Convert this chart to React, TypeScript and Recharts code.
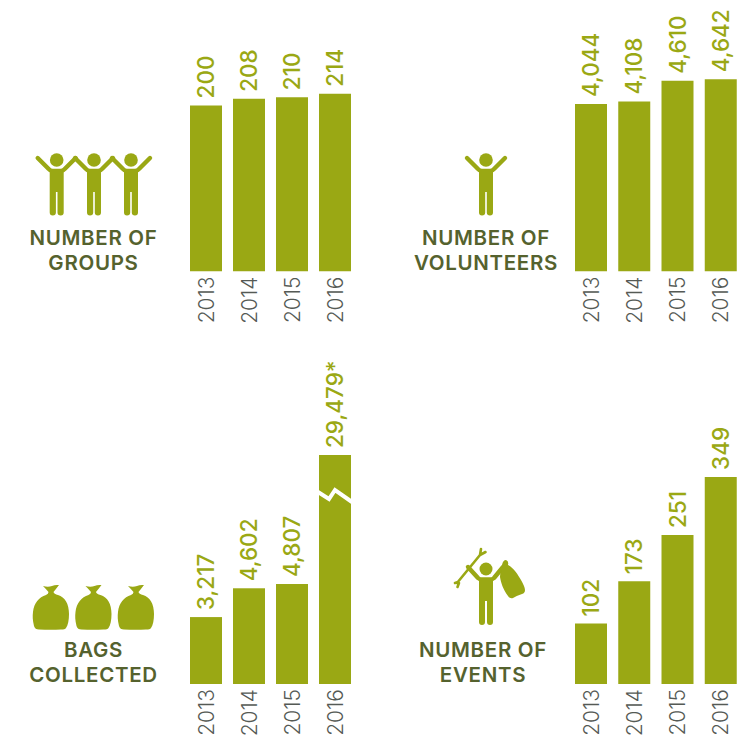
import React from "react";
import { BarChart, Bar, XAxis, YAxis, LabelList } from "recharts";

const years = ["2013", "2014", "2015", "2016"];
const groups = [200, 208, 210, 214];
const volunteers = [4044, 4108, 4610, 4642];
const bags = [3217, 4602, 4807, 29479];
// The 2016 bags bar is drawn on a broken axis: its drawn height stands for this truncated value.
const bagsDrawn = [3217, 4602, 4807, 11010];
const events = [102, 173, 251, 349];
const bagsSuffix = ["", "", "", "*"];

const GREEN = "#9aa814";
const DARK = "#55622e";
const GREY = "#555a55";
const FONT = "Inter, 'Noto Sans', sans-serif";

const fmt = (v: number) => v.toLocaleString("en-US");

function YearTick(props: any) {
  const { x, y, payload } = props;
  return (
    <text
      transform={`translate(${x + 8},${y - 3}) rotate(-90)`}
      textAnchor="end"
      fontFamily={FONT}
      fontWeight={300}
      fontSize={21}
      fill={GREY}
    >
      {payload.value}
    </text>
  );
}

function ValueLabel(props: any) {
  const { x, y, width, value, index, labels } = props;
  return (
    <text
      transform={`translate(${x + width / 2 + 8},${y - 7}) rotate(-90)`}
      textAnchor="start"
      fontFamily={FONT}
      fontWeight={500}
      fontSize={22.5}
      fill={GREEN}
    >
      {labels ? labels[index] : fmt(value)}
    </text>
  );
}

function BrokenBar(props: any) {
  const { x, y, width, height, index } = props;
  return (
    <g>
      <rect x={x} y={y} width={width} height={height} fill={GREEN} />
      {index === 3 && (
        <polyline
          points={`${x - 1},${y + 37} ${x + 10},${y + 44} ${x + 16},${y + 35} ${x + width + 1},${y + 47}`}
          fill="none"
          stroke="#fff"
          strokeWidth={4}
        />
      )}
    </g>
  );
}

function Panel(props: {
  left: number;
  top: number;
  width: number;
  plotHeight: number;
  max: number;
  values: number[];
  labels?: string[];
  shape?: any;
}) {
  const { left, top, width, plotHeight, max, values, labels, shape } = props;
  const data = years.map((year, i) => ({ year, value: values[i] }));
  return (
    <div style={{ position: "absolute", left, top, width, height: plotHeight + 60 }}>
      <BarChart
        width={width}
        height={plotHeight + 60}
        data={data}
        margin={{ top: 0, right: 0, bottom: 0, left: 0 }}
        barSize={32}
        style={{ overflow: "visible" }}
      >
        <XAxis
          dataKey="year"
          height={60}
          axisLine={false}
          tickLine={false}
          interval={0}
          tick={<YearTick />}
        />
        <YAxis hide domain={[0, max]} allowDataOverflow />
        <Bar dataKey="value" fill={GREEN} isAnimationActive={false} shape={shape}>
          <LabelList dataKey="value" content={(p: any) => <ValueLabel {...p} labels={labels} />} />
        </Bar>
      </BarChart>
    </div>
  );
}

function Person({ cx, cy }: { cx: number; cy: number }) {
  return (
    <g transform={`translate(${cx},${cy})`} fill={GREEN} stroke="none">
      <circle cx={0} cy={0} r={6.8} />
      <path
        d="M-19,-2 L-8,9 Q-6.500,11 -4,11 L4,11 Q6.500,11 8,9 L19,-2"
        fill="none"
        stroke={GREEN}
        strokeWidth={4.4}
        strokeLinecap="round"
        strokeLinejoin="round"
      />
      <path d="M-7,10 H7 V52.500 Q7,55.500 4,55.500 Q0.800,55.500 0.800,52.500 V32 H-0.800 V52.500 Q-0.800,55.500 -4,55.500 Q-7,55.500 -7,52.500 Z" />
    </g>
  );
}

function Bag({ cx, cy }: { cx: number; cy: number }) {
  return (
    <path
      transform={`translate(${cx},${cy})`}
      fill={GREEN}
      d="M-8,-20 Q-3,-18.500 1,-20 Q4,-21.500 8,-21 Q5,-17 2.500,-14 Q3,-12 7,-11 C14,-9 18,-2 18,8 C18,14 17,19 15,22 Q14,23.500 10,23.500 Q0,24 -12,23.500 Q-16,23.500 -17,20 C-18.500,14 -18.500,10 -18,6 C-17,-3 -12,-9 -5,-11 Q-2.500,-12 -2.500,-14 Q-5,-17 -8,-20 Z"
    />
  );
}

function EventPerson({ cx, cy }: { cx: number; cy: number }) {
  return (
    <g transform={`translate(${cx},${cy})`}>
      <circle cx={0} cy={0} r={6.5} fill={GREEN} />
      <path
        d="M-18,-2 L-8,9 Q-6.500,10.500 -4,10.500 L4,10.500 Q6.500,10.500 8,9 L17,-2"
        fill="none"
        stroke={GREEN}
        strokeWidth={4.4}
        strokeLinecap="round"
        strokeLinejoin="round"
      />
      <path fill={GREEN} d="M-7,10 H7 V53 Q7,56 4,56 Q1,56 1,53 V32 H-1 V53 Q-1,56 -4,56 Q-7,56 -7,53 Z" />
      <path
        d="M-29,14 L-6,-14 M-6,-14 L-5,-20 M-6,-14 L-0.500,-17 M-28,13 L-31,14 M-27,14 L-28.500,18"
        fill="none"
        stroke={GREEN}
        strokeWidth={2.6}
        strokeLinecap="round"
      />
      <path
        fill={GREEN}
        d="M16,-4 Q17,-9 20,-9 Q23,-8 22,-4 C28,-1 32,6 35,11 Q39,18 39,21 Q39,24 36,25 Q30,27 27,29 Q24,30 22,27 C17,20 15,14 14,8 Q14,2 17,-1 Z"
      />
    </g>
  );
}

function Caption({ x, y, lines }: { x: number; y: number; lines: string[] }) {
  return (
    <text
      fontFamily={FONT}
      fontWeight={600}
      fontSize={20.5}
      letterSpacing={0.7}
      fill={DARK}
      textAnchor="middle"
    >
      {lines.map((line, i) => (
        <tspan key={line} x={x} y={y + i * 25}>
          {line}
        </tspan>
      ))}
    </text>
  );
}

export default function App() {
  return (
    <div
      style={{
        position: "absolute",
        left: 0,
        top: 0,
        width: 754,
        height: 736,
        background: "#fff",
        overflow: "hidden",
      }}
    >
      <svg
        width={754}
        height={736}
        style={{ position: "absolute", left: 0, top: 0 }}
      >
        <Person cx={56.700} cy={160} />
        <Person cx={94} cy={160} />
        <Person cx={131} cy={160} />
        <Caption x={93.500} y={245} lines={["NUMBER OF", "GROUPS"]} />
        <Person cx={486} cy={160} />
        <Caption x={486} y={245} lines={["NUMBER OF", "VOLUNTEERS"]} />
        <Bag cx={51} cy={606} />
        <Bag cx={93.500} cy={606} />
        <Bag cx={136} cy={606} />
        <Caption x={93.500} y={657} lines={["BAGS", "COLLECTED"]} />
        <EventPerson cx={486} cy={569} />
        <Caption x={483} y={657} lines={["NUMBER OF", "EVENTS"]} />
      </svg>
      <Panel left={184} width={172} top={0} plotHeight={271.500} max={327} values={groups} />
      <Panel left={569} width={173} top={0} plotHeight={271.500} max={6558} values={volunteers} />
      <Panel
        left={184}
        width={172}
        top={350}
        plotHeight={334}
        max={16058}
        values={bagsDrawn}
        labels={bags.map((v, i) => fmt(v) + bagsSuffix[i])}
        shape={<BrokenBar />}
      />
      <Panel left={569} width={173} top={350} plotHeight={334} max={563} values={events} />
    </div>
  );
}
